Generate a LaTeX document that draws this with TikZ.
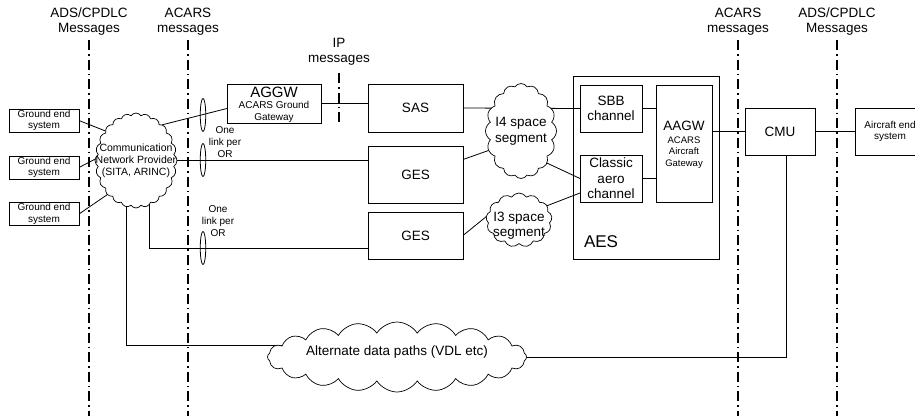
\documentclass[tikz,border=0pt]{standalone}
\usepackage{fontspec}
\setmainfont{Liberation Sans}
\usetikzlibrary{shapes.symbols,shapes.geometric,backgrounds,calc}

\begin{document}
\begin{tikzpicture}[x=1pt,y=-1pt,
  every node/.style={inner sep=0pt, outer sep=0pt},
  box/.style={draw, fill=white, line width=0.8pt, align=center,
    font=\fontsize{13.5}{15.5}\selectfont},
  gbox/.style={draw, fill=white, line width=0.8pt, align=center,
    minimum width=70pt, minimum height=23pt,
    font=\fontsize{10}{11.5}\selectfont},
  puff/.style={draw, fill=white, cloud, cloud puffs=#1, cloud puff arc=115,
    cloud ignores aspect, line width=0.7pt},
  lab/.style={align=center, font=\fontsize{13.5}{15}\selectfont},
  note/.style={align=center, font=\fontsize{10}{12}\selectfont},
  ring/.style={draw, ellipse, line width=0.8pt, minimum width=5.5pt,
    minimum height=33pt},
  wire/.style={line width=0.8pt},
  msgline/.style={line width=1.8pt, dash pattern=on 10pt off 4pt on 1.5pt off 4pt}
]
\useasboundingbox (0,0) rectangle (915,416);

% message-type headings
\node[lab] (tl1) at (89,21.5) {ADS/CPDLC\\Messages};
\node[lab] (tl2) at (188,21.5) {ACARS\\messages};
\node[lab] (tl3) at (339,51.5) {IP\\messages};
\node[lab] (tr1) at (738,21.5) {ACARS\\messages};
\node[lab] (tr2) at (837,21.5) {ADS/CPDLC\\Messages};

% ground end systems
\node[gbox] (g1) at (44,120.5) {Ground end\\system};
\node[gbox] (g2) at (44,167.5) {Ground end\\system};
\node[gbox] (g3) at (44,214) {Ground end\\system};

% communication network provider
\node[puff=24, minimum width=82pt, minimum height=95pt] (cnp) at (136,160.5) {};
\node[align=center, font=\fontsize{10.5}{12}\selectfont] (cnpt) at (136,160.5)
  {Communication\\Network Provider\\(SITA, ARINC)};

% ground gateway and ground stations
\node[box, minimum width=94pt, minimum height=39pt] (aggw) at (274,103.5) {};
\node[font=\fontsize{15}{15}\selectfont] (aggwt) at (274,92) {AGGW};
\node[note] (aggws) at (274,112) {ACARS Ground\\Gateway};

\node[box, minimum width=95pt, minimum height=48pt] (sas) at (415.5,108) {SAS};
\node[box, minimum width=95pt, minimum height=57pt] (ges1) at (415.5,174.5) {GES};
\node[box, minimum width=95pt, minimum height=47pt] (ges2) at (415.5,235.5) {GES};

% link bundles
\node[ring] (e1) at (203,115) {};
\node[ring] (e2) at (203,160) {};
\node[ring] (e3) at (203,248) {};
\node[note] (n1) at (225,142) {One\\link per\\OR};
\node[note] (n2) at (218,221) {One\\link per\\OR};

% space segments
\node[puff=16, minimum width=71pt, minimum height=95pt] (i4) at (521,131) {};
\node[align=center, font=\fontsize{13.5}{16}\selectfont] (i4t) at (521,131.5) {I4 space\\segment};
\node[puff=13, minimum width=66pt, minimum height=54pt] (i3) at (519,220) {};
\node[align=center, font=\fontsize{13.5}{15}\selectfont] (i3t) at (519,225.5) {I3 space\\segment};

% aircraft earth station
\node[draw, line width=0.8pt, minimum width=146pt, minimum height=183pt] (aes) at (646,167.5) {};
\node[anchor=west, font=\fontsize{17}{17}\selectfont] (aest) at (584,242) {AES};
\node[box, minimum width=62pt, minimum height=47pt] (sbb) at (611,108.5) {SBB\\channel};
\node[box, minimum width=62pt, minimum height=47pt] (classic) at (611,178.5) {Classic\\aero\\channel};
\node[box, minimum width=56pt, minimum height=117pt] (aagw) at (684,143.5) {};
\node[font=\fontsize{13.5}{14}\selectfont] (aagwt) at (684,126) {AAGW};
\node[align=center, font=\fontsize{9.5}{11.5}\selectfont] (aagws) at (684,152.5) {ACARS\\Aircraft\\Gateway};

% airborne side
\node[box, minimum width=70pt, minimum height=47pt] (cmu) at (780,131.5) {CMU};
\node[box, minimum width=70pt, minimum height=47pt, font=\fontsize{10}{11.5}\selectfont] (ac) at (890,131.5) {Aircraft end\\system};

% alternate paths
\node[puff=20, minimum width=259pt, minimum height=70pt] (alt) at (397,357) {};
\node[font=\fontsize{13.5}{15}\selectfont] (altt) at (397,352) {Alternate data paths (VDL etc)};

\begin{scope}[on background layer]
  % message boundaries
  \coordinate (m1a) at (89,40);  \coordinate (m1b) at (89,416);
  \coordinate (m2a) at (188,40); \coordinate (m2b) at (188,416);
  \coordinate (m3a) at (339,73); \coordinate (m3b) at (339,123);
  \coordinate (m4a) at (738,40); \coordinate (m4b) at (738,416);
  \coordinate (m5a) at (837,40); \coordinate (m5b) at (837,416);
  \draw[msgline] (m1a) -- (m1b);
  \draw[msgline] (m2a) -- (m2b);
  \draw[msgline] (m3a) -- (m3b);
  \draw[msgline] (m4a) -- (m4b);
  \draw[msgline] (m5a) -- (m5b);

  % connections
  \draw[wire] (g1.east) -- (cnp.136);
  \draw[wire] (g2.east) -- (cnp.178);
  \draw[wire] (g3.east) -- (cnp.230);
  \draw[wire] (cnp.54) -- ([yshift=-5pt]aggw.west);
  \draw[wire] (cnp.east) -- (cnp.east -| ges1.west);
  \draw[wire] (cnp.287) |- ([yshift=-12.5pt]ges2.west);
  \draw[wire] (cnp.258) |- (alt.174);
  \draw[wire] (aggw.east) -- (aggw.east -| sas.west);
  \draw[wire] (sas.east) -- (sbb.west);
  \draw[wire] ([yshift=15pt]ges1.east) -- (i4.211);
  \draw[wire] (i4.309) -- (classic.west);
  \draw[wire] (ges2.east) -- (i3.174);
  \draw[wire] (i3.27) -- ([yshift=-14.5pt]classic.west);
  \draw[wire] (sbb.east) -- (sbb.east -| aagw.west);
  \draw[wire] (classic.east) -- (classic.east -| aagw.west);
  \draw[wire] (cmu.west -| aagw.east) -- (cmu.west);
  \draw[wire] (cmu.east) -- (ac.west);
  \draw[wire] ([xshift=6pt]cmu.south) |- (alt.east);
\end{scope}
\end{tikzpicture}
\end{document}
